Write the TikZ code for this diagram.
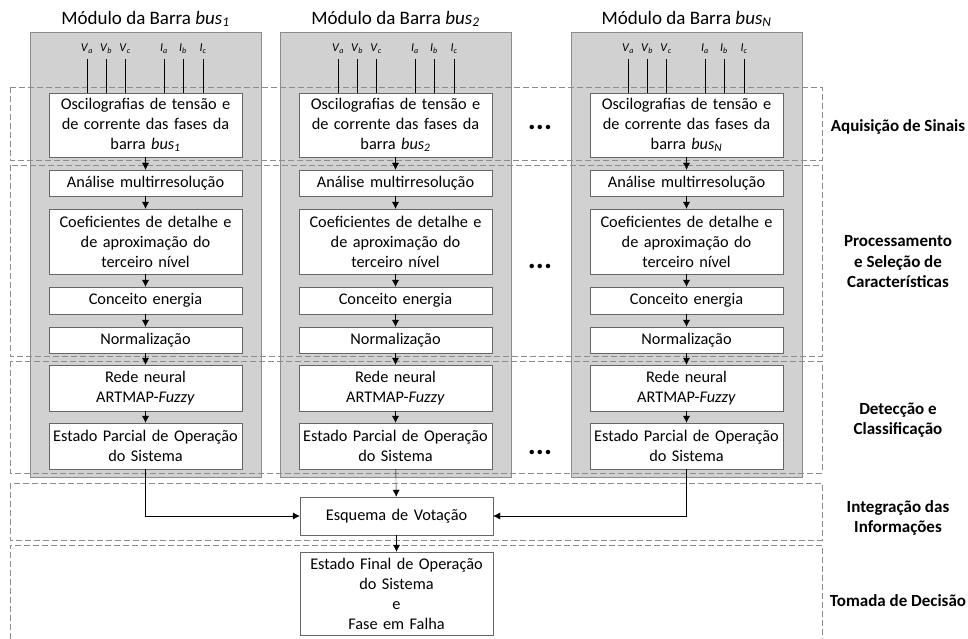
\documentclass[tikz,border=0pt]{standalone}
\usepackage{fontspec}
\setmainfont{Carlito}
\usetikzlibrary{arrows.meta}

\newcommand{\bus}[1]{\textit{bus}\textsubscript{\textit{#1}}}
\newcommand{\sig}[2]{\textit{#1}\textsubscript{\textit{#2}}}

\begin{document}
\begin{tikzpicture}[x=1pt,y=-1pt,>={Latex[length=7pt,width=7pt]},
  module/.style={draw=black!45,fill=black!18,minimum width=231pt,minimum height=445pt,inner sep=0pt},
  block/.style={draw=black!60,fill=white,text width=187pt,align=center,inner xsep=3pt,inner ysep=0pt,
    font=\fontsize{16.3}{20}\selectfont},
  stage/.style={draw=black!45,dash pattern=on 6pt off 3pt,line width=0.8pt},
  phase/.style={font=\fontsize{17}{20.5}\selectfont\bfseries,align=center},
  title/.style={font=\fontsize{19}{20}\selectfont},
  signal/.style={font=\fontsize{12}{12}\selectfont,inner sep=1pt},
  more/.style={font=\fontsize{30}{30}\selectfont\bfseries}]

  \useasboundingbox (0,0) rectangle (968,639);

  % modules
  \node[module] (mod1) at (145.5,254.5) {};
  \node[module] (mod2) at (395.5,254.5) {};
  \node[module] (modN) at (686.5,254.5) {};
  \node[title] (tit1) at (145.5,19) {Módulo da Barra \bus{1}};
  \node[title] (tit2) at (395.5,19) {Módulo da Barra \bus{2}};
  \node[title] (titN) at (686.5,19) {Módulo da Barra \bus{N}};

  % stages
  \draw[stage] (10,87) rectangle (822,160);
  \draw[stage] (10,165) rectangle (822,356);
  \draw[stage] (10,361) rectangle (822,473);
  \draw[stage] (10,483) rectangle (822,540);
  \draw[stage] (10,639) -- (10,545) -- (822,545) -- (822,639);

  \node[phase] (aq) at (898,127) {Aquisição de Sinais};
  \node[phase] (proc) at (898,262) {Processamento\\e Seleção de\\Características};
  \node[phase] (det) at (898,420) {Detecção e\\Classificação};
  \node[phase] (int) at (898,518) {Integração das\\Informações};
  \node[phase] (tom) at (898,601) {Tomada de Decisão};

  % column 1
  \node[block,minimum height=64pt] (osc1) at (145.5,125) {Oscilografias de tensão e\\de corrente das fases da\\barra \bus{1}};
  \node[block,minimum height=26pt] (ana1) at (145.5,183) {Análise multirresolução};
  \node[block,minimum height=65pt] (coef1) at (145.5,241.5) {Coeficientes de detalhe e\\de aproximação do\\terceiro nível};
  \node[block,minimum height=27pt] (ener1) at (145.5,300.5) {Conceito energia};
  \node[block,minimum height=26pt] (norm1) at (145.5,340) {Normalização};
  \node[block,minimum height=46pt] (rede1) at (145.5,388) {Rede neural\\ARTMAP-\textit{Fuzzy}};
  \node[block,minimum height=46pt] (est1) at (145.5,446) {Estado Parcial de Operação\\do Sistema};

  % column 2
  \node[block,minimum height=64pt] (osc2) at (395.5,125) {Oscilografias de tensão e\\de corrente das fases da\\barra \bus{2}};
  \node[block,minimum height=26pt] (ana2) at (395.5,183) {Análise multirresolução};
  \node[block,minimum height=65pt] (coef2) at (395.5,241.5) {Coeficientes de detalhe e\\de aproximação do\\terceiro nível};
  \node[block,minimum height=27pt] (ener2) at (395.5,300.5) {Conceito energia};
  \node[block,minimum height=26pt] (norm2) at (395.5,340) {Normalização};
  \node[block,minimum height=46pt] (rede2) at (395.5,388) {Rede neural\\ARTMAP-\textit{Fuzzy}};
  \node[block,minimum height=46pt] (est2) at (395.5,446) {Estado Parcial de Operação\\do Sistema};

  % column N
  \node[block,minimum height=64pt] (oscN) at (686.5,125) {Oscilografias de tensão e\\de corrente das fases da\\barra \bus{N}};
  \node[block,minimum height=26pt] (anaN) at (686.5,183) {Análise multirresolução};
  \node[block,minimum height=65pt] (coefN) at (686.5,241.5) {Coeficientes de detalhe e\\de aproximação do\\terceiro nível};
  \node[block,minimum height=27pt] (enerN) at (686.5,300.5) {Conceito energia};
  \node[block,minimum height=26pt] (normN) at (686.5,340) {Normalização};
  \node[block,minimum height=46pt] (redeN) at (686.5,388) {Rede neural\\ARTMAP-\textit{Fuzzy}};
  \node[block,minimum height=46pt] (estN) at (686.5,446) {Estado Parcial de Operação\\do Sistema};

  \node[more] (dots1) at (540,127) {...};
  \node[more] (dots2) at (540,266) {...};
  \node[more] (dots3) at (540,452) {...};

  % voting and decision
  \node[block,minimum height=38pt] (vot) at (396.5,516) {Esquema de Votação};
  \node[block,minimum height=83pt] (fin) at (396.5,593.5) {Estado Final de Operação\\do Sistema\\e\\Fase em Falha};

  % signals
  \node[signal] (va1) at (87,49) {\sig{V}{a}};  \node[signal] (vb1) at (106,49) {\sig{V}{b}};  \node[signal] (vc1) at (125,49) {\sig{V}{c}};
  \node[signal] (ia1) at (164,49) {\sig{I}{a}};  \node[signal] (ib1) at (183,49) {\sig{I}{b}};  \node[signal] (ic1) at (203,49) {\sig{I}{c}};
  \node[signal] (va2) at (338,49) {\sig{V}{a}};  \node[signal] (vb2) at (357,49) {\sig{V}{b}};  \node[signal] (vc2) at (376,49) {\sig{V}{c}};
  \node[signal] (ia2) at (415,49) {\sig{I}{a}};  \node[signal] (ib2) at (434,49) {\sig{I}{b}};  \node[signal] (ic2) at (454,49) {\sig{I}{c}};
  \node[signal] (vaN) at (628,49) {\sig{V}{a}};  \node[signal] (vbN) at (647,49) {\sig{V}{b}};  \node[signal] (vcN) at (666,49) {\sig{V}{c}};
  \node[signal] (iaN) at (705,49) {\sig{I}{a}};  \node[signal] (ibN) at (724,49) {\sig{I}{b}};  \node[signal] (icN) at (744,49) {\sig{I}{c}};

  \draw[semithick] (va1.south) ++(0,4) -- (va1.south |- osc1.north) (vb1.south) ++(0,4) -- (vb1.south |- osc1.north)
    (vc1.south) ++(0,4) -- (vc1.south |- osc1.north) (ia1.south) ++(0,4) -- (ia1.south |- osc1.north)
    (ib1.south) ++(0,4) -- (ib1.south |- osc1.north) (ic1.south) ++(0,4) -- (ic1.south |- osc1.north);
  \draw[semithick] (va2.south) ++(0,4) -- (va2.south |- osc2.north) (vb2.south) ++(0,4) -- (vb2.south |- osc2.north)
    (vc2.south) ++(0,4) -- (vc2.south |- osc2.north) (ia2.south) ++(0,4) -- (ia2.south |- osc2.north)
    (ib2.south) ++(0,4) -- (ib2.south |- osc2.north) (ic2.south) ++(0,4) -- (ic2.south |- osc2.north);
  \draw[semithick] (vaN.south) ++(0,4) -- (vaN.south |- oscN.north) (vbN.south) ++(0,4) -- (vbN.south |- oscN.north)
    (vcN.south) ++(0,4) -- (vcN.south |- oscN.north) (iaN.south) ++(0,4) -- (iaN.south |- oscN.north)
    (ibN.south) ++(0,4) -- (ibN.south |- oscN.north) (icN.south) ++(0,4) -- (icN.south |- oscN.north);

  % flow
  \path[->,draw]
    (osc1) edge (ana1) (ana1) edge (coef1) (coef1) edge (ener1) (ener1) edge (norm1)
    (norm1) edge (rede1) (rede1) edge (est1)
    (osc2) edge (ana2) (ana2) edge (coef2) (coef2) edge (ener2) (ener2) edge (norm2)
    (norm2) edge (rede2) (rede2) edge (est2)
    (oscN) edge (anaN) (anaN) edge (coefN) (coefN) edge (enerN) (enerN) edge (normN)
    (normN) edge (redeN) (redeN) edge (estN)
    (est2) edge (vot) (vot) edge (fin);
  \draw[->] (est1.south) |- (vot.west);
  \draw[->] (estN.south) |- (vot.east);

\end{tikzpicture}
\end{document}
